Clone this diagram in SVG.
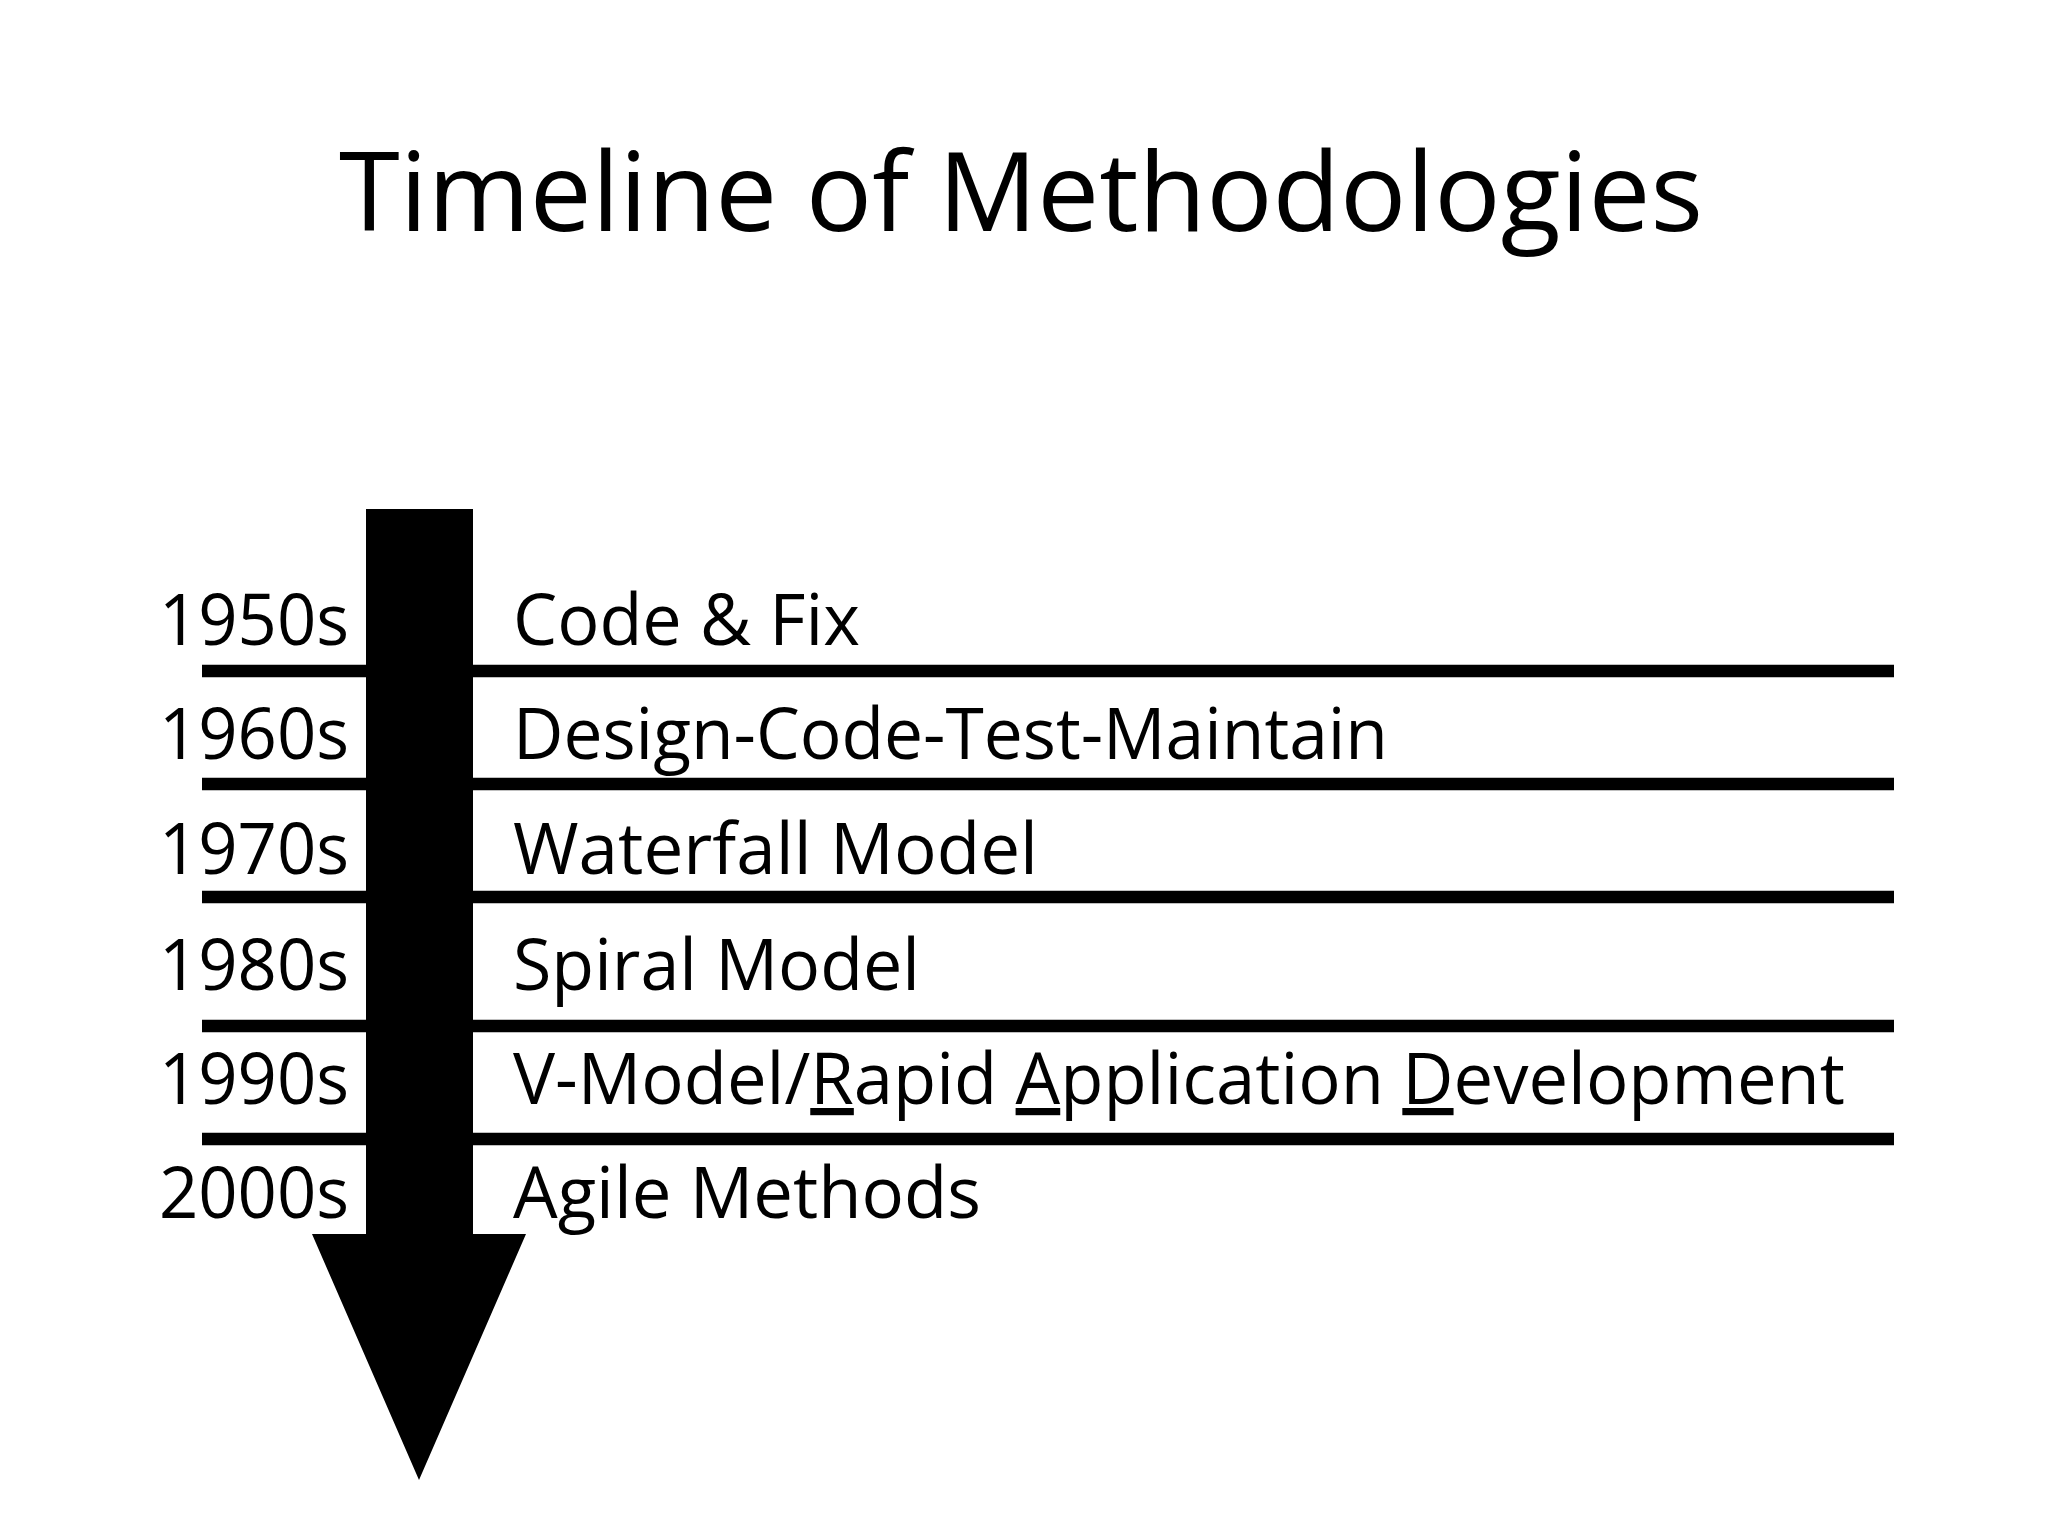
<svg xmlns="http://www.w3.org/2000/svg" width="2048" height="1536" viewBox="0 0 2048 1536">
<style>
.t{font-family:"Open Sans","Noto Sans","Liberation Sans",sans-serif;fill:#000}
.title{font-size:110px}
.lbl{font-size:72px}
.rule{stroke:#000;stroke-width:12.7;fill:none}
.u{text-decoration:underline}
</style>
<rect width="2048" height="1536" fill="#fff"/>
<g id="title">
<text class="t title" x="339" y="231" textLength="1364" lengthAdjust="spacingAndGlyphs">Timeline of Methodologies</text>
</g>
<g id="rules">
<line class="rule" x1="202" y1="671" x2="1894" y2="671"/>
<line class="rule" x1="202" y1="784" x2="1894" y2="784"/>
<line class="rule" x1="202" y1="897" x2="1894" y2="897"/>
<line class="rule" x1="202" y1="1026" x2="1894" y2="1026"/>
<line class="rule" x1="202" y1="1139" x2="1894" y2="1139"/>
</g>
<g id="arrow">
<polygon points="366,509 473,509 473,1234 526,1234 419,1480 312,1234 366,1234" fill="#000"/>
</g>
<g id="years">
<text class="t lbl" x="159" y="645" textLength="190" lengthAdjust="spacingAndGlyphs">1950s</text>
<text class="t lbl" x="159" y="759" textLength="190" lengthAdjust="spacingAndGlyphs">1960s</text>
<text class="t lbl" x="159" y="874" textLength="190" lengthAdjust="spacingAndGlyphs">1970s</text>
<text class="t lbl" x="159" y="990" textLength="190" lengthAdjust="spacingAndGlyphs">1980s</text>
<text class="t lbl" x="159" y="1104" textLength="190" lengthAdjust="spacingAndGlyphs">1990s</text>
<text class="t lbl" x="159" y="1218" textLength="190" lengthAdjust="spacingAndGlyphs">2000s</text>
</g>
<g id="methods">
<text class="t lbl" x="513" y="645" textLength="347" lengthAdjust="spacingAndGlyphs">Code &amp; Fix</text>
<text class="t lbl" x="513" y="759" textLength="875" lengthAdjust="spacingAndGlyphs">Design-Code-Test-Maintain</text>
<text class="t lbl" x="513" y="874" textLength="525" lengthAdjust="spacingAndGlyphs">Waterfall Model</text>
<text class="t lbl" x="513" y="990" textLength="407" lengthAdjust="spacingAndGlyphs">Spiral Model</text>
<text class="t lbl" x="513" y="1104" textLength="1332" lengthAdjust="spacingAndGlyphs">V-Model/<tspan class="u">R</tspan>apid <tspan class="u">A</tspan>pplication <tspan class="u">D</tspan>evelopment</text>
<text class="t lbl" x="513" y="1218" textLength="468" lengthAdjust="spacingAndGlyphs">Agile Methods</text>
</g>
</svg>
